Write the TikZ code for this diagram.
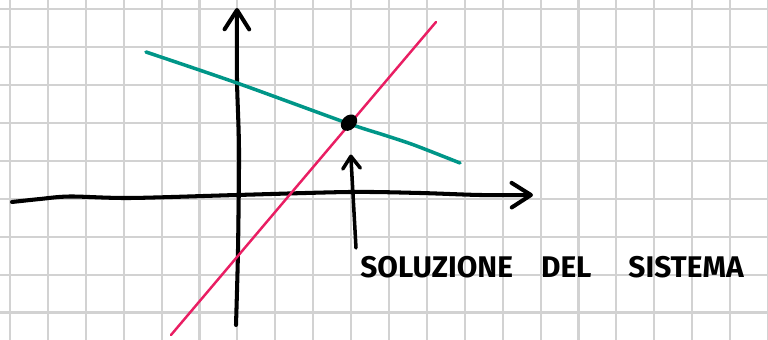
\documentclass[tikz,border=0pt]{standalone}
\usepackage{fontspec}
\setmainfont{Fira Sans}
\usetikzlibrary{arrows.meta, shapes.geometric}
\definecolor{gridgray}{HTML}{D2D2D2}
\definecolor{lineteal}{HTML}{009688}
\definecolor{linepink}{HTML}{E91E63}

\begin{document}
\begin{tikzpicture}[
  x=0.02cm, y=-0.02cm,
  gridline/.style={draw=gridgray, line width=1.2pt},
  axis/.style={line width=2.3pt, line cap=round, line join=round,
               -{Straight Barb[length=11pt, width=14pt, round]}},
  pointer/.style={line width=2pt, line cap=round,
                  -{Straight Barb[length=7pt, width=10pt, round]}},
  soldot/.style={ellipse, fill=black, inner sep=0pt, minimum width=10.5pt,
                 minimum height=8pt, rotate=45},
  handtext/.style={font=\bfseries\fontsize{17}{17}\selectfont, inner sep=0pt}
]
  % sheet of squared paper
  \useasboundingbox[fill=white] (0,0) rectangle (768,340);
  \foreach \i in {0,...,20}
    \draw[gridline] ({10+37.9*\i},0) -- ({10+37.9*\i},340);
  \foreach \j in {0,...,8}
    \draw[gridline] (0,{9.3+37.9*\j}) -- (768,{9.3+37.9*\j});

  % axes
  \draw[axis] plot[smooth] coordinates {(12,202) (40,199) (70,196.5) (130,198)
    (237,195) (350,192) (420,193) (480,195) (533,195)};
  \draw[axis] plot[smooth] coordinates {(236,325) (238,250) (239,150)
    (237,80) (237,8)};

  % the two lines
  \draw[lineteal, line width=2pt, line cap=round] plot[smooth] coordinates
    {(146,52) (237,83) (347,123) (384,135) (414,145) (460,163)};
  \draw[linepink, line width=1.4pt, line cap=round] (171,335) -- (436,22);

  % solution
  \node[soldot] (sol) at (349,122.7) {};
  \node[handtext, anchor=base west] (lbl) at (360,278)
    {SOLUZIONE\hspace{16pt}DEL\hspace{21pt}SISTEMA};
  \coordinate (ptr) at (356,248);
  \draw[pointer, shorten >=13.5pt] (ptr) -- (sol);
\end{tikzpicture}
\end{document}
